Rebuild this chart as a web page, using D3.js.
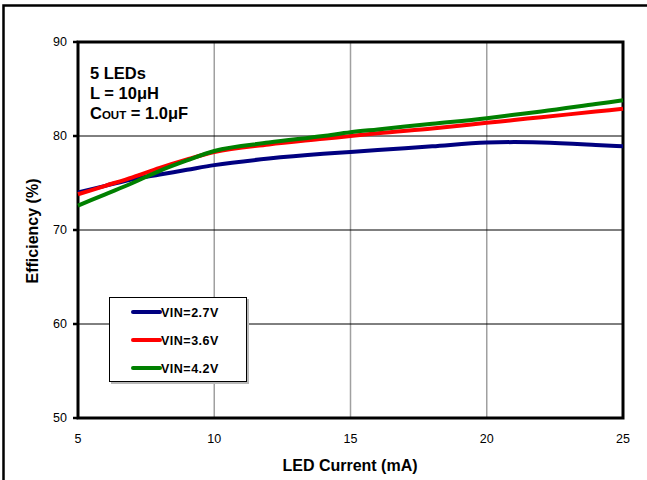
<!doctype html>
<html>
  <head>
    <script src="https://cdnjs.cloudflare.com/ajax/libs/d3/7.8.5/d3.min.js"></script>
    <style>
      body { margin: 0; background: #fff; }
      svg { display: block; font-family: Arial, "Liberation Sans", sans-serif; }
      .gridx { stroke: #a0a0a0; stroke-width: 1.5; }
      .gridy { stroke: #000; stroke-width: 1; }
      .tick-label { font-size: 12.5px; fill: #000; }
      .axis-title { font-size: 16px; font-weight: bold; }
      .note { font-size: 16.5px; font-weight: bold; }
      .legend-text { font-size: 12.5px; font-weight: bold; letter-spacing: 0.5px; }
    </style>
  </head>
  <body>
    <svg width="647" height="480"></svg>
    <script>
      // values
      var current = [5, 6, 7, 8, 9, 10, 12, 14, 15, 16, 18, 20, 21, 22, 24, 25];
      var vin27 = [74.0, 74.7, 75.4, 75.9, 76.4, 76.9, 77.6, 78.1, 78.3, 78.5, 78.9, 79.3, 79.35, 79.3, 79.05, 78.9];
      var vin36 = [73.8, 74.7, 75.6, 76.6, 77.5, 78.3, 79.1, 79.7, 80.0, 80.3, 80.8, 81.4, 81.7, 82.0, 82.6, 82.9];
      var vin42 = [72.6, 73.8, 75.0, 76.3, 77.4, 78.4, 79.3, 80.0, 80.4, 80.7, 81.3, 81.9, 82.25, 82.6, 83.4, 83.8];
      var seriesNames = ["VIN=2.7V", "VIN=3.6V", "VIN=4.2V"];
      var seriesColors = ["#000080", "#ff0000", "#008000"];
      var xTicks = [5, 10, 15, 20, 25];
      var yTicks = [50, 60, 70, 80, 90];
      var notes = ["5 LEDs", "L = 10\u03bcH"];

      var svg = d3.select("svg");

      // outer frame (runs off the right and bottom edges)
      svg.append("path")
        .attr("d", "M3.5,700 L3.5,5.5 L700,5.5")
        .attr("fill", "none")
        .attr("stroke", "#000")
        .attr("stroke-width", 2.5);

      var x = d3.scaleLinear().domain([5, 25]).range([78, 623]);
      var y = d3.scaleLinear().domain([50, 90]).range([418, 42]);

      // grid
      svg.selectAll("line.gridx").data(xTicks.slice(1, -1)).enter()
        .append("line").attr("class", "gridx")
        .attr("x1", d => x(d)).attr("x2", d => x(d))
        .attr("y1", y(90)).attr("y2", y(50));
      svg.selectAll("line.gridy").data(yTicks.slice(1, -1)).enter()
        .append("line").attr("class", "gridy")
        .attr("x1", x(5)).attr("x2", x(25))
        .attr("y1", d => y(d)).attr("y2", d => y(d));

      // y tick marks
      svg.selectAll("line.ytick").data(yTicks).enter()
        .append("line")
        .attr("x1", x(5) - 5).attr("x2", x(5))
        .attr("y1", d => y(d)).attr("y2", d => y(d))
        .attr("stroke", "#000").attr("stroke-width", 2.5);

      svg.selectAll("text.ylab").data(yTicks).enter()
        .append("text").attr("class", "tick-label")
        .attr("x", x(5) - 11).attr("y", d => y(d) + 4)
        .attr("text-anchor", "end")
        .text(d => d);

      svg.selectAll("text.xlab").data(xTicks).enter()
        .append("text").attr("class", "tick-label")
        .attr("x", d => x(d)).attr("y", 443)
        .attr("text-anchor", "middle")
        .text(d => d);

      // plot border
      svg.append("rect")
        .attr("x", x(5)).attr("y", y(90))
        .attr("width", x(25) - x(5)).attr("height", y(50) - y(90))
        .attr("fill", "none").attr("stroke", "#000").attr("stroke-width", 3);

      // curves
      var line = d3.line()
        .x(d => x(d[0]))
        .y(d => y(d[1]))
        .curve(d3.curveMonotoneX);

      [vin27, vin36, vin42].forEach(function (vals, i) {
        svg.append("path")
          .datum(current.map((c, j) => [c, vals[j]]))
          .attr("fill", "none")
          .attr("stroke", seriesColors[i])
          .attr("stroke-width", 4)
          .attr("d", line);
      });

      // axis titles
      svg.append("text").attr("class", "axis-title")
        .attr("x", 350).attr("y", 471)
        .attr("text-anchor", "middle")
        .text("LED Current (mA)");
      svg.append("text").attr("class", "axis-title")
        .attr("transform", "translate(38,231) rotate(-90)")
        .attr("text-anchor", "middle")
        .text("Efficiency (%)");

      // annotation
      svg.selectAll("text.note").data(notes).enter()
        .append("text").attr("class", "note")
        .attr("x", 90).attr("y", (d, i) => 79 + i * 20)
        .text(d => d);
      var cout = svg.append("text").attr("class", "note")
        .attr("x", 90).attr("y", 119);
      cout.append("tspan").text("C");
      cout.append("tspan").attr("font-size", "11.5px").text("OUT");
      cout.append("tspan").text(" = 1.0\u03bcF");

      // legend
      var lg = svg.append("g");
      lg.append("rect")
        .attr("x", 111).attr("y", 299).attr("width", 138).attr("height", 85)
        .attr("fill", "#b8b8b8");
      lg.append("rect")
        .attr("x", 109.5).attr("y", 297.5).attr("width", 137).attr("height", 84)
        .attr("fill", "#fff").attr("stroke", "#000").attr("stroke-width", 1);
      seriesNames.forEach(function (name, i) {
        var ly = 312 + i * 28;
        lg.append("line")
          .attr("x1", 133).attr("x2", 160).attr("y1", ly).attr("y2", ly)
          .attr("stroke", seriesColors[i]).attr("stroke-width", 4)
          .attr("stroke-linecap", "round");
        lg.append("text").attr("class", "legend-text")
          .attr("x", 161).attr("y", ly + 4.5)
          .text(name);
      });
    </script>
  </body>
</html>
